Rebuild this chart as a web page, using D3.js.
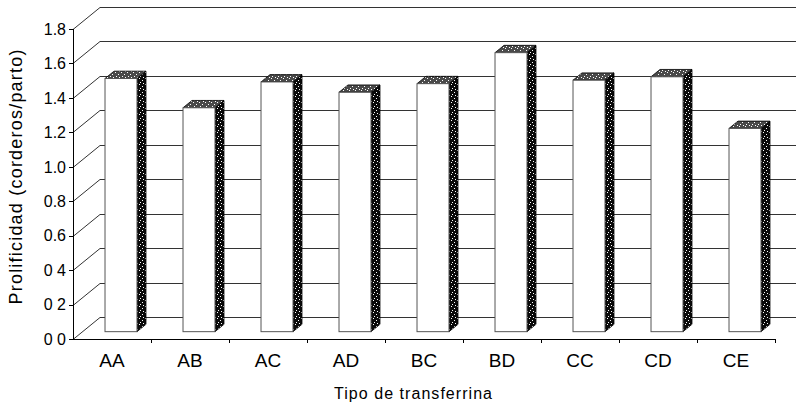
<!DOCTYPE html>
<html>
<head>
<meta charset="utf-8">
<script src="https://cdn.jsdelivr.net/npm/d3@7/dist/d3.min.js"></script>
<style>
  html, body { margin: 0; padding: 0; background: #fff; }
  svg { display: block; font-family: "Liberation Sans", Arial, sans-serif; }
</style>
</head>
<body>
<svg id="chart" width="796" height="404"></svg>
<script>
// Transferrin genotypes and mean prolificacy (lambs per lambing)
const categories = ["AA", "AB", "AC", "AD", "BC", "BD", "CC", "CD", "CE"];
const prolificacy = [1.47, 1.30, 1.45, 1.39, 1.44, 1.62, 1.46, 1.48, 1.18];
const yTicks = [0, 0.2, 0.4, 0.6, 0.8, 1.0, 1.2, 1.4, 1.6, 1.8];
const yTickLabels = ["0 0", "0 2", "0 4", "0.6", "0.8", "1.0", "1.2", "1.4", "1.6", "1.8"];
const yTitle = "Prolificidad (corderos/parto)";
const xTitle = "Tipo de transferrina";

const svg = d3.select("#chart");

// Front plane of the 3-D box
const plotLeft = 73, plotRight = 775, plotBottom = 339, plotTop = 29;
// Depth offset of the back wall
const depthX = 27, depthY = 22;
// Bars sit between 1/3 and 2/3 of the depth
const dFront = 1 / 3, dBack = 2 / 3;

const x = d3.scaleBand().domain(categories).range([plotLeft, plotRight]).padding(0);
const y = d3.scaleLinear().domain([0, 1.8]).range([plotBottom, plotTop]);

// Speckled fills for the shaded faces
const defs = svg.append("defs");
function speckle(id, base) {
  const p = defs.append("pattern").attr("id", id)
    .attr("width", 6).attr("height", 6).attr("patternUnits", "userSpaceOnUse");
  p.append("rect").attr("width", 6).attr("height", 6).attr("fill", base);
  [[1, 0], [4, 2], [2, 4], [5, 5]].forEach(([a, b]) =>
    p.append("rect").attr("x", a).attr("y", b).attr("width", 1).attr("height", 1).attr("fill", "#fff"));
}
speckle("sideFill", "#0a0a0a");
speckle("topFill", "#4a4a4a");

const grid = svg.append("g").attr("stroke", "#333").attr("stroke-width", 1).attr("fill", "none");

// Back-wall gridlines and the side-wall diagonals
yTicks.forEach(t => {
  const yy = Math.round(y(t)) + 0.5;
  grid.append("line")
    .attr("x1", plotLeft + depthX).attr("x2", 796)
    .attr("y1", yy - depthY).attr("y2", yy - depthY);
  grid.append("line")
    .attr("x1", plotLeft).attr("y1", yy)
    .attr("x2", plotLeft + depthX).attr("y2", yy - depthY);
});

// Bars
const barW = x.bandwidth() * 0.41;
const fx = depthX * dFront, fy = depthY * dFront;
const bx = depthX * dBack, by = depthY * dBack;

const bars = svg.append("g").selectAll("g").data(categories).join("g");
bars.each(function (c, i) {
  const g = d3.select(this);
  const x0 = x(c) + (x.bandwidth() - barW) / 2 + fx;
  const x1 = x0 + barW;
  const y0 = y(0) - fy;
  const yt = y(prolificacy[i]) - fy;
  const ddx = bx - fx, ddy = by - fy;
  // side face
  g.append("path")
    .attr("d", `M${x1},${yt}L${x1 + ddx},${yt - ddy}L${x1 + ddx},${y0 - ddy}L${x1},${y0}Z`)
    .attr("fill", "url(#sideFill)").attr("stroke", "#000").attr("stroke-width", 0.8);
  // top face
  g.append("path")
    .attr("d", `M${x0},${yt}L${x0 + ddx},${yt - ddy}L${x1 + ddx},${yt - ddy}L${x1},${yt}Z`)
    .attr("fill", "url(#topFill)").attr("stroke", "#000").attr("stroke-width", 0.8);
  // front face
  g.append("rect")
    .attr("x", x0).attr("y", yt).attr("width", barW).attr("height", y0 - yt)
    .attr("fill", "#fff").attr("stroke", "#555").attr("stroke-width", 1);
});

// Front axes
const axes = svg.append("g").attr("stroke", "#000").attr("stroke-width", 1);
axes.append("line").attr("x1", plotLeft + 0.5).attr("x2", plotLeft + 0.5)
  .attr("y1", y(1.8)).attr("y2", plotBottom + 0.5);
axes.append("line").attr("x1", plotLeft).attr("x2", plotRight)
  .attr("y1", plotBottom + 0.5).attr("y2", plotBottom + 0.5);
yTicks.forEach(t => {
  const yy = Math.round(y(t)) + 0.5;
  axes.append("line").attr("x1", plotLeft - 4).attr("x2", plotLeft).attr("y1", yy).attr("y2", yy);
});
categories.forEach(c => {
  const xx = Math.round(x(c) + x.bandwidth()) + 0.5;
  axes.append("line").attr("x1", xx).attr("x2", xx).attr("y1", plotBottom).attr("y2", plotBottom + 4);
});

// Tick labels
svg.append("g").selectAll("text").data(yTicks).join("text")
  .attr("x", plotLeft - 7).attr("y", t => y(t))
  .attr("dy", "0.36em").attr("text-anchor", "end")
  .attr("font-size", 16).text((t, i) => yTickLabels[i]);

svg.append("g").selectAll("text").data(categories).join("text")
  .attr("x", c => x(c) + x.bandwidth() / 2).attr("y", 367)
  .attr("text-anchor", "middle").attr("font-size", 19).text(c => c);

// Axis titles
svg.append("text")
  .attr("transform", "translate(22,177) rotate(-90)")
  .attr("text-anchor", "middle").attr("font-size", 18)
  .attr("textLength", 255).attr("lengthAdjust", "spacing").text(yTitle);
svg.append("text")
  .attr("x", 413).attr("y", 399).attr("text-anchor", "middle")
  .attr("font-size", 16)
  .attr("textLength", 158).attr("lengthAdjust", "spacing").text(xTitle);
</script>
</body>
</html>
